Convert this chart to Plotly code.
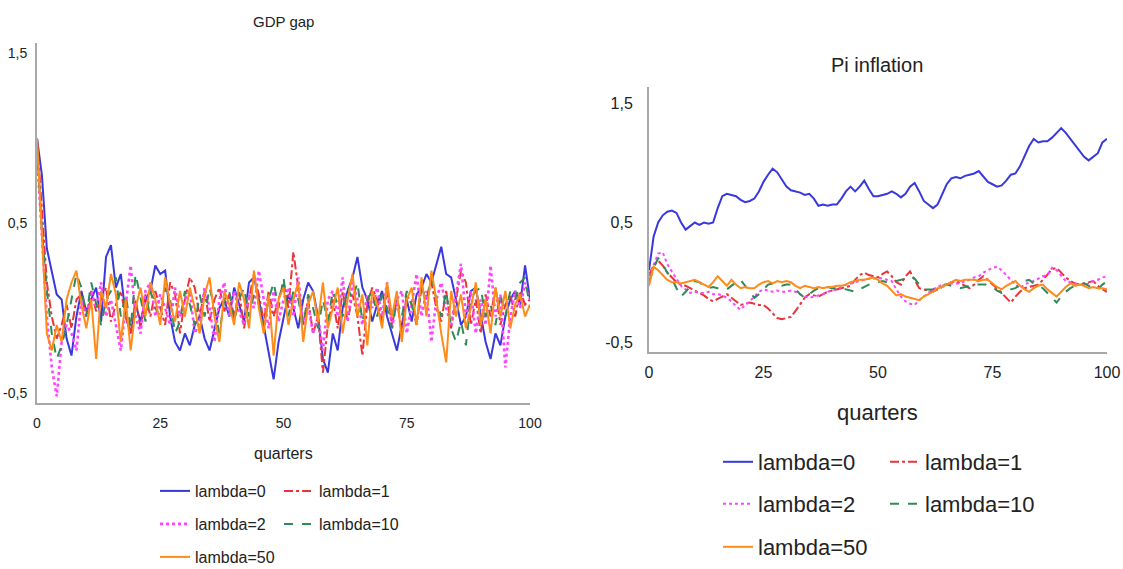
import plotly.graph_objects as go

quarters = list(range(101))
labels = ["lambda=0", "lambda=1", "lambda=2", "lambda=10", "lambda=50"]
colors = ["#3838dd", "#e8343a", "#ff44ff", "#2e8b57", "#ff8c1a"]
dashes = ["solid", "dashdot", "dot", "dash", "solid"]

# ---- GDP gap (left panel) ----
gdp_l0 = [1.00, 0.78, 0.35, 0.22, 0.08, 0.05, -0.18, -0.28, -0.05, 0.10,
          -0.02, 0.05, 0.12, -0.08, 0.30, 0.37, 0.12, 0.20, -0.05, -0.15,
          0.02, -0.08, 0.05, 0.10, 0.25, 0.20, 0.22, -0.05, -0.20, -0.25,
          -0.15, -0.22, -0.10, -0.05, -0.18, -0.25, -0.12, 0.00, 0.05, -0.05,
          0.12, 0.02, -0.08, 0.15, 0.18, 0.05, -0.10, -0.25, -0.42, -0.20,
          -0.05, 0.08, 0.00, -0.12, 0.05, 0.15, 0.10, -0.05, -0.30, -0.38,
          -0.15, -0.25, 0.00, 0.10, 0.18, 0.30, 0.12, 0.05, -0.08, 0.02,
          0.10, -0.05, -0.15, -0.25, -0.10, 0.05, -0.08, 0.08, 0.12, 0.20,
          0.15, 0.25, 0.36, 0.20, 0.18, 0.05, -0.10, -0.05, 0.10, 0.12,
          -0.05, -0.20, -0.30, -0.15, -0.22, -0.05, 0.05, 0.10, 0.02, 0.25,
          0.05]
gdp_l1 = [1.00, 0.55, 0.15, -0.05, -0.18, -0.10, 0.02, -0.12, 0.05, 0.08,
          -0.05, 0.10, -0.02, 0.05, 0.12, -0.08, 0.02, 0.10, -0.05, -0.15,
          0.05, -0.12, 0.08, -0.05, 0.10, 0.00, -0.10, 0.15, 0.08, -0.15,
          0.05, 0.18, 0.12, -0.05, 0.10, -0.08, 0.05, 0.12, -0.02, 0.08,
          -0.05, 0.10, -0.12, 0.05, 0.20, 0.08, -0.08, 0.10, -0.05, 0.05,
          0.15, 0.00, 0.33, 0.12, -0.10, 0.05, -0.15, -0.05, -0.38, -0.10,
          0.05, -0.12, 0.10, -0.08, 0.08, -0.05, -0.28, 0.02, 0.12, 0.05,
          -0.08, 0.10, -0.10, 0.05, -0.15, 0.08, 0.02, -0.10, 0.12, 0.05,
          0.15, 0.00, -0.08, 0.10, -0.12, 0.05, 0.22, 0.15, -0.10, 0.05,
          -0.15, 0.08, -0.05, 0.12, -0.10, 0.02, 0.08, -0.05, 0.10, 0.02,
          0.05]
gdp_l2 = [0.90, 0.40, -0.05, -0.35, -0.52, -0.20, -0.10, -0.15, -0.25, 0.05,
          -0.05, 0.10, 0.00, 0.15, -0.05, 0.05, -0.10, -0.25, 0.02, 0.25,
          -0.05, -0.15, 0.10, 0.15, -0.05, 0.08, 0.00, -0.10, 0.12, -0.05,
          0.05, 0.10, -0.15, -0.08, 0.12, 0.00, -0.20, 0.05, 0.15, -0.05,
          0.10, -0.02, -0.10, 0.08, 0.00, 0.22, 0.05, -0.12, 0.10, -0.08,
          0.05, 0.12, -0.05, 0.18, -0.10, 0.02, -0.15, -0.05, -0.25, 0.05,
          0.10, -0.05, 0.18, -0.08, 0.15, 0.05, -0.10, 0.08, 0.00, 0.12,
          -0.05, 0.15, -0.12, 0.05, 0.10, -0.15, 0.02, 0.20, -0.05, 0.10,
          -0.20, 0.05, 0.15, 0.00, -0.10, 0.08, 0.26, -0.05, 0.10, -0.15,
          0.05, -0.10, 0.25, -0.05, 0.08, -0.35, -0.05, 0.10, 0.00, 0.15,
          0.05]
gdp_l10 = [0.95, 0.45, 0.10, -0.15, -0.30, -0.22, -0.10, 0.05, 0.20, 0.12,
           -0.05, 0.15, 0.02, -0.10, 0.05, 0.10, 0.18, -0.05, 0.08, -0.12,
           0.20, 0.05, -0.08, 0.10, 0.00, -0.05, 0.12, 0.05, -0.15, -0.08,
           0.10, 0.02, -0.10, 0.08, -0.05, 0.12, 0.00, -0.15, 0.05, 0.10,
           -0.08, 0.05, 0.12, -0.05, 0.08, 0.02, -0.10, 0.05, 0.15, 0.00,
           0.18, -0.05, 0.10, 0.05, -0.10, 0.08, 0.00, -0.12, 0.05, -0.08,
           0.10, 0.02, -0.05, 0.12, 0.05, 0.15, -0.08, 0.05, 0.10, -0.05,
           0.08, 0.00, -0.12, 0.05, -0.05, 0.10, 0.02, -0.08, 0.12, 0.05,
           0.18, 0.05, -0.05, 0.10, -0.12, -0.20, -0.08, -0.22, 0.05, 0.10,
           0.12, -0.05, 0.02, -0.10, 0.08, -0.05, 0.10, 0.05, 0.15, 0.18,
           0.00]
gdp_l50 = [1.00, 0.40, -0.15, -0.25, -0.10, -0.20, 0.05, 0.15, 0.22, 0.02,
           -0.12, 0.05, -0.30, 0.10, 0.00, 0.20, 0.08, -0.20, 0.05, -0.25,
           0.00, 0.12, -0.05, 0.15, 0.05, -0.10, 0.18, 0.02, -0.08, 0.10,
           -0.05, 0.12, 0.00, -0.15, 0.08, 0.18, -0.05, -0.20, 0.10, 0.02,
           -0.10, 0.15, 0.05, -0.12, 0.22, 0.00, -0.15, 0.08, -0.28, 0.05,
           0.12, -0.10, 0.05, 0.15, -0.20, 0.02, 0.10, -0.08, 0.15, -0.12,
           0.00, 0.12, -0.15, 0.05, 0.20, -0.05, 0.08, -0.22, 0.10, 0.02,
           -0.12, 0.15, -0.05, 0.10, -0.20, 0.05, 0.12, -0.10, 0.18, -0.05,
           0.22, 0.05, -0.15, -0.32, 0.10, -0.05, 0.08, -0.12, 0.00, 0.15,
           -0.10, 0.05, -0.15, 0.12, -0.05, 0.10, -0.12, 0.02, 0.08, -0.05,
           0.02]

# ---- Pi inflation (right panel) ----
pi_l0 = [0.10, 0.38, 0.50, 0.56, 0.59, 0.60, 0.58, 0.50, 0.44, 0.47,
         0.50, 0.48, 0.50, 0.49, 0.50, 0.62, 0.72, 0.74, 0.73, 0.72,
         0.69, 0.67, 0.68, 0.70, 0.76, 0.84, 0.90, 0.95, 0.92, 0.86,
         0.80, 0.77, 0.76, 0.75, 0.73, 0.74, 0.70, 0.64, 0.65, 0.64,
         0.65, 0.65, 0.70, 0.76, 0.80, 0.76, 0.80, 0.85, 0.78, 0.72,
         0.72, 0.73, 0.74, 0.76, 0.74, 0.71, 0.74, 0.80, 0.83, 0.76,
         0.68, 0.65, 0.62, 0.65, 0.74, 0.82, 0.87, 0.88, 0.87, 0.89,
         0.90, 0.91, 0.93, 0.88, 0.84, 0.82, 0.80, 0.81, 0.85, 0.90,
         0.91, 0.97, 1.06, 1.14, 1.20, 1.17, 1.18, 1.18, 1.21, 1.25,
         1.29, 1.25, 1.20, 1.15, 1.10, 1.05, 1.02, 1.05, 1.08, 1.17,
         1.20]
pi_l1 = [0.06, 0.14, 0.18, 0.14, 0.08, 0.04, 0.00, -0.02, -0.03, -0.05,
         -0.07, -0.09, -0.11, -0.14, -0.16, -0.14, -0.12, -0.10, -0.13, -0.16,
         -0.19, -0.18, -0.17, -0.18, -0.19, -0.19, -0.22, -0.26, -0.30, -0.31,
         -0.30, -0.29, -0.24, -0.18, -0.13, -0.10, -0.11, -0.12, -0.10, -0.08,
         -0.07, -0.06, -0.05, -0.04, -0.03, 0.02, 0.06, 0.08, 0.06, 0.05,
         0.04, 0.07, 0.09, 0.05, 0.00, -0.02, 0.05, 0.09, 0.02, -0.05,
         -0.06, -0.07, -0.08, -0.06, -0.04, -0.02, 0.00, 0.01, -0.01, -0.03,
         -0.05, -0.02, 0.02, 0.05, 0.02, -0.02, -0.05, -0.09, -0.13, -0.17,
         -0.12, -0.08, -0.05, -0.04, -0.03, -0.02, 0.02, 0.07, 0.11, 0.12,
         0.08, 0.04, 0.01, -0.01, -0.02, -0.01, 0.00, 0.01, -0.03, -0.06,
         -0.08]
pi_l2 = [0.05, 0.15, 0.24, 0.25, 0.15, 0.09, 0.03, -0.03, -0.06, -0.09,
         -0.08, -0.09, -0.09, -0.08, -0.10, -0.10, -0.11, -0.13, -0.16, -0.20,
         -0.23, -0.19, -0.16, -0.12, -0.08, -0.06, -0.07, -0.08, -0.07, -0.08,
         -0.08, -0.07, -0.08, -0.10, -0.12, -0.13, -0.12, -0.11, -0.10, -0.08,
         -0.07, -0.06, -0.04, -0.02, -0.01, 0.00, 0.01, 0.02, 0.03, 0.03,
         0.04, 0.03, 0.02, 0.01, -0.06, -0.12, -0.16, -0.18, -0.19, -0.15,
         -0.12, -0.09, -0.06, -0.04, -0.02, -0.02, -0.01, -0.01, -0.01, 0.01,
         0.02, 0.04, 0.05, 0.08, 0.10, 0.12, 0.13, 0.10, 0.06, 0.02,
         -0.02, -0.05, -0.02, 0.00, 0.01, 0.03, 0.05, 0.06, 0.12, 0.10,
         0.05, 0.01, 0.00, -0.01, -0.02, -0.02, -0.01, 0.01, 0.02, 0.04,
         0.05]
pi_l10 = [0.00, 0.12, 0.20, 0.15, 0.08, 0.03, -0.05, -0.12, -0.08, -0.03,
          0.01, 0.00, -0.03, -0.05, -0.04, -0.05, -0.06, -0.06, -0.03, 0.00,
          0.02, -0.03, -0.08, -0.13, -0.10, -0.06, -0.02, -0.01, -0.02, -0.03,
          -0.02, -0.02, -0.06, -0.10, -0.13, -0.10, -0.07, -0.05, -0.05, -0.04,
          -0.05, -0.05, -0.05, -0.06, -0.07, -0.08, -0.06, -0.04, -0.02, -0.01,
          0.00, 0.01, 0.00, 0.01, 0.01, 0.02, 0.03, 0.05, 0.03, -0.02,
          -0.06, -0.06, -0.06, -0.05, -0.03, -0.02, -0.03, -0.04, -0.05, -0.04,
          -0.03, -0.02, -0.02, -0.02, -0.02, -0.04, -0.07, -0.09, -0.07, -0.06,
          -0.05, -0.02, 0.01, 0.02, -0.01, -0.03, -0.05, -0.09, -0.13, -0.17,
          -0.12, -0.08, -0.05, -0.03, -0.02, -0.01, -0.03, -0.05, -0.06, -0.02,
          0.01]
pi_l50 = [-0.03, 0.13, 0.10, 0.06, 0.02, 0.00, 0.00, -0.01, 0.00, 0.01,
          0.02, 0.00, -0.02, -0.04, 0.00, 0.05, 0.01, -0.03, 0.02, -0.02,
          -0.05, -0.04, -0.05, -0.05, -0.02, 0.00, 0.01, -0.01, 0.01, 0.00,
          0.01, 0.00, -0.03, -0.05, -0.03, -0.04, -0.05, -0.04, -0.05, -0.04,
          -0.04, -0.03, -0.03, -0.02, 0.00, 0.01, 0.02, 0.02, 0.03, 0.04,
          0.02, -0.01, -0.03, -0.07, -0.11, -0.10, -0.12, -0.13, -0.14, -0.15,
          -0.12, -0.10, -0.08, -0.05, -0.04, -0.02, 0.00, 0.02, 0.01, 0.02,
          0.02, 0.02, 0.01, 0.02, 0.02, -0.01, -0.04, -0.06, -0.03, -0.01,
          0.01, -0.03, -0.06, -0.08, -0.05, -0.03, -0.02, -0.06, -0.09, -0.12,
          -0.08, -0.04, -0.01, -0.03, -0.02, -0.03, -0.05, -0.04, -0.05, -0.05,
          -0.06]

y_ticks = [1.5, 0.5, -0.5]
y_ticktext = ["1,5", "0,5", "-0,5"]
x_ticks = [0, 25, 50, 75, 100]

FONT = "Liberation Sans, Arial, sans-serif"
W, H = 1123, 569


def px(x):
    return x / W


def py(y):
    return 1 - y / H


fig = go.Figure()

gdp_series = [gdp_l0, gdp_l1, gdp_l2, gdp_l10, gdp_l50]
pi_series = [pi_l0, pi_l1, pi_l2, pi_l10, pi_l50]

left_legend_pos = [(155, 491), (279, 491), (155, 524), (279, 524), (155, 557)]
right_legend_pos = [(718, 462), (885, 462), (718, 504), (885, 504), (718, 547)]

for i in range(5):
    lw = 2.6 if dashes[i] == "dot" else 2
    fig.add_trace(go.Scatter(
        x=quarters, y=gdp_series[i], mode="lines", name=labels[i],
        line=dict(color=colors[i], width=lw, dash=dashes[i]),
        xaxis="x", yaxis="y", legend="legend" if i == 0 else f"legend{i + 1}",
        showlegend=True,
    ))
for i in range(5):
    fig.add_trace(go.Scatter(
        x=quarters, y=pi_series[i], mode="lines", name=labels[i],
        line=dict(color=colors[i], width=2, dash=dashes[i]),
        xaxis="x2", yaxis="y2", legend=f"legend{i + 6}",
        showlegend=True,
    ))

axis_common = dict(showgrid=False, zeroline=False, showline=True, automargin=False,
                   linecolor="#a8a8a8", linewidth=2, ticks="", mirror=False)

layout = dict(
    width=W, height=H, paper_bgcolor="white", plot_bgcolor="white",
    margin=dict(l=0, r=0, t=0, b=0, autoexpand=False),
    showlegend=True,
    font=dict(family=FONT, color="#222222"),
    xaxis=dict(domain=[px(37), px(530)], range=[0, 100], tickvals=x_ticks,
               tickfont=dict(size=14, family=FONT), ticklabelstandoff=6,
               anchor="y", **axis_common),
    yaxis=dict(domain=[py(403), py(43)], range=[-0.559, 1.559], tickvals=y_ticks,
               ticktext=y_ticktext, tickfont=dict(size=14, family=FONT),
               ticklabelstandoff=5, anchor="x", **axis_common),
    xaxis2=dict(domain=[px(649), px(1107)], range=[0, 100], tickvals=x_ticks,
                tickfont=dict(size=16, family=FONT), ticklabelstandoff=5,
                anchor="y2", **axis_common),
    yaxis2=dict(domain=[py(352), py(87)], range=[-0.584, 1.634], tickvals=y_ticks,
                ticktext=y_ticktext, tickfont=dict(size=16, family=FONT),
                ticklabelstandoff=11, anchor="x2", **axis_common),
    annotations=[
        dict(text="GDP gap", x=px(283), y=py(22), xref="paper", yref="paper",
             xanchor="center", yanchor="middle",
             showarrow=False, font=dict(size=15, family=FONT)),
        dict(text="quarters", x=px(283), y=py(453), xref="paper", yref="paper",
             xanchor="center", yanchor="middle",
             showarrow=False, font=dict(size=16, family=FONT)),
        dict(text="Pi inflation", x=px(877), y=py(65), xref="paper", yref="paper",
             xanchor="center", yanchor="middle",
             showarrow=False, font=dict(size=20, family=FONT)),
        dict(text="quarters", x=px(877), y=py(412), xref="paper", yref="paper",
             xanchor="center", yanchor="middle",
             showarrow=False, font=dict(size=22, family=FONT)),
    ],
)

for i, (lx, ly) in enumerate(left_legend_pos):
    key = "legend" if i == 0 else f"legend{i + 1}"
    layout[key] = dict(x=px(lx), y=py(ly), xanchor="left", yanchor="middle",
                       bgcolor="rgba(0,0,0,0)", font=dict(size=16, family=FONT))
for i, (lx, ly) in enumerate(right_legend_pos):
    layout[f"legend{i + 6}"] = dict(x=px(lx), y=py(ly), xanchor="left", yanchor="middle",
                                    bgcolor="rgba(0,0,0,0)", font=dict(size=22, family=FONT))

fig.update_layout(**layout)
fig.write_html(
    "out.html",
    config={"displayModeBar": False},
    post_script="document.body.style.margin='0px';document.body.style.overflow='hidden';",
)
